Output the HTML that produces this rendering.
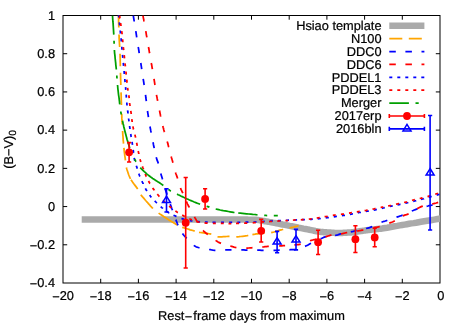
<!DOCTYPE html>
<html><head><meta charset="utf-8"><title>plot</title>
<style>html,body{margin:0;padding:0;background:#fff;overflow:hidden}body{width:463px;height:324px}.t{font-family:"Liberation Sans",sans-serif;text-rendering:geometricPrecision}</style>
</head><body>
<svg width="463" height="324" viewBox="0 0 463 324" style="display:block">
<rect width="100%" height="100%" fill="#fff"/>
<defs><clipPath id="c"><rect x="63" y="15.5" width="377" height="267.5"/></clipPath></defs>
<g stroke="#000" stroke-width="1" fill="none">
<rect x="63" y="15.5" width="377" height="267.5"/>
<path d="M100.70,283 v-4.2 M100.70,15.5 v4.2"/>
<path d="M138.40,283 v-4.2 M138.40,15.5 v4.2"/>
<path d="M176.10,283 v-4.2 M176.10,15.5 v4.2"/>
<path d="M213.80,283 v-4.2 M213.80,15.5 v4.2"/>
<path d="M251.50,283 v-4.2 M251.50,15.5 v4.2"/>
<path d="M289.20,283 v-4.2 M289.20,15.5 v4.2"/>
<path d="M326.90,283 v-4.2 M326.90,15.5 v4.2"/>
<path d="M364.60,283 v-4.2 M364.60,15.5 v4.2"/>
<path d="M402.30,283 v-4.2 M402.30,15.5 v4.2"/>
<path d="M63,244.79 h4.2 M440,244.79 h-4.2"/>
<path d="M63,206.57 h4.2 M440,206.57 h-4.2"/>
<path d="M63,168.36 h4.2 M440,168.36 h-4.2"/>
<path d="M63,130.14 h4.2 M440,130.14 h-4.2"/>
<path d="M63,91.93 h4.2 M440,91.93 h-4.2"/>
<path d="M63,53.71 h4.2 M440,53.71 h-4.2"/>
</g>
<g class="t" font-size="12.8" fill="#000" stroke="#000" stroke-width="0.22" style="will-change:transform">
<text x="63.00" y="299.9" text-anchor="middle"><tspan dy="1.1">−</tspan><tspan dy="-1.1">20</tspan></text>
<text x="100.70" y="299.9" text-anchor="middle"><tspan dy="1.1">−</tspan><tspan dy="-1.1">18</tspan></text>
<text x="138.40" y="299.9" text-anchor="middle"><tspan dy="1.1">−</tspan><tspan dy="-1.1">16</tspan></text>
<text x="176.10" y="299.9" text-anchor="middle"><tspan dy="1.1">−</tspan><tspan dy="-1.1">14</tspan></text>
<text x="213.80" y="299.9" text-anchor="middle"><tspan dy="1.1">−</tspan><tspan dy="-1.1">12</tspan></text>
<text x="251.50" y="299.9" text-anchor="middle"><tspan dy="1.1">−</tspan><tspan dy="-1.1">10</tspan></text>
<text x="289.20" y="299.9" text-anchor="middle"><tspan dy="1.1">−</tspan><tspan dy="-1.1">8</tspan></text>
<text x="326.90" y="299.9" text-anchor="middle"><tspan dy="1.1">−</tspan><tspan dy="-1.1">6</tspan></text>
<text x="364.60" y="299.9" text-anchor="middle"><tspan dy="1.1">−</tspan><tspan dy="-1.1">4</tspan></text>
<text x="402.30" y="299.9" text-anchor="middle"><tspan dy="1.1">−</tspan><tspan dy="-1.1">2</tspan></text>
<text x="440.90" y="299.9" text-anchor="middle">0</text>
<text x="55" y="287.00" text-anchor="end"><tspan dy="1.1">−</tspan><tspan dy="-1.1">0.4</tspan></text>
<text x="55" y="248.86" text-anchor="end"><tspan dy="1.1">−</tspan><tspan dy="-1.1">0.2</tspan></text>
<text x="55" y="210.71" text-anchor="end">0</text>
<text x="55" y="172.57" text-anchor="end">0.2</text>
<text x="55" y="134.43" text-anchor="end">0.4</text>
<text x="55" y="96.29" text-anchor="end">0.6</text>
<text x="55" y="58.14" text-anchor="end">0.8</text>
<text x="55" y="20.00" text-anchor="end">1</text>
<text y="320"><tspan x="158.1">Rest</tspan><tspan x="184.65" dy="0.6">−</tspan><tspan x="193.35" dy="-0.6">frame days from maximum</tspan></text>
<text transform="translate(13.0,149.3) rotate(-90)" text-anchor="middle">(B−V)<tspan font-size="10.3" dy="2.6">0</tspan></text>
<text x="381.5" y="29.95" text-anchor="end">Hsiao template</text>
<text x="381.5" y="42.85" text-anchor="end">N100</text>
<text x="381.5" y="55.75" text-anchor="end">DDC0</text>
<text x="381.5" y="68.65" text-anchor="end">DDC6</text>
<text x="381.5" y="81.55" text-anchor="end">PDDEL1</text>
<text x="381.5" y="94.45" text-anchor="end">PDDEL3</text>
<text x="381.5" y="107.35" text-anchor="end">Merger</text>
<text x="381.5" y="120.25" text-anchor="end">2017erp</text>
<text x="381.5" y="133.15" text-anchor="end">2016bln</text>
</g>
<g clip-path="url(#c)" fill="none" stroke-width="1.75">
<path d="M81.7,219.5 L86.9,219.5 L93.7,219.5 L101.8,219.5 L110.8,219.5 L120.5,219.5 L130.5,219.5 L140.4,219.5 L150.0,219.5 L159.9,219.5 L170.6,219.5 L181.8,219.5 L193.0,219.4 L203.9,219.4 L213.9,219.4 L222.8,219.4 L230.0,219.4 L235.5,219.4 L239.5,219.4 L242.5,219.5 L244.5,219.5 L246.1,219.6 L247.3,219.6 L248.5,219.7 L250.0,219.7 L251.5,219.7 L252.7,219.7 L253.7,219.7 L254.4,219.7 L255.1,219.7 L255.7,219.8 L256.5,219.8 L257.3,219.9 L258.2,220.0 L259.2,220.1 L260.1,220.3 L261.0,220.5 L262.0,220.6 L262.9,220.8 L263.9,221.0 L265.0,221.2 L266.0,221.4 L267.1,221.6 L268.1,221.7 L269.1,221.9 L270.3,222.1 L271.5,222.3 L272.9,222.6 L274.5,222.9 L276.3,223.2 L278.3,223.6 L280.4,224.0 L282.6,224.5 L284.9,224.9 L287.3,225.4 L289.6,225.9 L291.8,226.3 L294.0,226.7 L296.4,227.2 L298.7,227.7 L301.1,228.1 L303.4,228.6 L305.6,229.0 L307.6,229.4 L309.5,229.8 L311.2,230.1 L312.7,230.4 L314.1,230.7 L315.4,231.0 L316.6,231.2 L317.8,231.4 L318.9,231.6 L320.0,231.8 L321.1,231.9 L322.0,232.1 L322.9,232.1 L323.8,232.2 L324.6,232.2 L325.5,232.3 L326.3,232.3 L327.3,232.4 L328.3,232.5 L329.4,232.5 L330.5,232.6 L331.6,232.7 L332.7,232.8 L333.8,232.8 L334.9,232.9 L336.0,232.9 L337.1,232.9 L338.1,232.9 L339.2,232.9 L340.3,232.9 L341.3,232.9 L342.4,232.9 L343.4,232.8 L344.5,232.8 L345.6,232.8 L346.6,232.7 L347.7,232.6 L348.7,232.6 L349.8,232.5 L350.9,232.4 L351.9,232.3 L353.0,232.2 L354.1,232.1 L355.2,231.9 L356.3,231.8 L357.4,231.6 L358.5,231.4 L359.6,231.2 L360.7,231.1 L361.8,230.9 L362.8,230.8 L363.9,230.6 L364.9,230.5 L365.9,230.3 L366.9,230.2 L367.9,230.1 L368.9,229.9 L370.0,229.8 L371.1,229.7 L372.3,229.6 L373.5,229.4 L374.7,229.3 L375.9,229.2 L377.1,229.1 L378.1,229.0 L379.0,228.9 L379.7,228.8 L380.1,228.8 L380.4,228.8 L380.6,228.8 L380.9,228.7 L381.4,228.6 L382.2,228.5 L383.4,228.3 L385.1,228.0 L387.2,227.7 L389.5,227.3 L392.0,226.8 L394.6,226.3 L397.2,225.9 L399.8,225.4 L402.3,225.0 L404.6,224.6 L406.9,224.2 L409.1,223.8 L411.4,223.4 L413.7,223.1 L416.1,222.7 L418.6,222.2 L421.1,221.8 L424.1,221.3 L427.3,220.8 L430.8,220.2 L434.3,219.6 L437.6,219.0 L440.6,218.5 L443.1,218.1 L445.0,217.8" stroke="#aaaaaa" stroke-width="6.5"/>
<path d="M118.5,15.5 L118.5,17.0 L118.6,18.5 L118.6,20.0 L118.6,21.6 L118.7,23.2 L118.7,24.8 L118.8,26.4 L118.8,27.5 M119.0,34.5 L119.1,36.1 L119.1,37.7 L119.2,39.3 L119.3,40.9 L119.4,42.5 L119.5,44.1 L119.6,45.7 L119.7,47.0 M120.0,53.8 L120.1,55.3 L120.1,56.9 L120.2,58.5 L120.2,60.1 L120.2,61.7 L120.3,63.3 L120.3,64.9 L120.3,66.2 M120.5,72.8 L120.5,74.3 L120.6,75.7 L120.6,77.1 L120.6,78.5 L120.7,79.9 L120.7,81.2 L120.8,82.7 L120.8,84.1 L120.8,85.0 M121.0,92.4 L121.1,94.1 L121.2,96.4 L121.2,98.8 L121.3,100.1 L121.3,101.3 L121.4,102.6 L121.4,103.9 L121.4,104.9 M121.7,113.7 L121.8,115.3 L121.8,116.6 L121.9,118.9 L122.1,121.1 L122.2,123.3 L122.2,124.6 M122.6,131.0 L122.7,132.6 L122.8,134.6 L123.0,136.5 L123.1,138.4 L123.2,140.2 L123.4,142.0 L123.5,143.6 M123.9,147.9 L124.1,149.4 L124.2,150.9 L124.4,152.4 L124.6,153.8 L124.7,155.1 L124.9,156.4 L125.1,157.7 L125.3,159.4 L125.4,160.4 M126.4,167.5 L126.7,168.7 L127.1,170.1 L127.6,171.5 L128.1,173.0 L128.6,174.5 L129.2,176.0 L129.8,177.4 L130.5,178.8 M131.0,179.7 L131.9,181.1 L132.8,182.4 L133.8,183.8 L134.8,185.1 L135.8,186.4 L136.7,187.6 L137.5,188.7 L137.7,189.0 M140.8,194.7 L141.9,196.1 L142.8,197.2 L143.9,198.4 L145.0,199.7 L146.1,201.0 L147.3,202.3 L148.4,203.6 L149.6,204.9 L150.6,206.1 L151.6,207.2 L152.5,208.1 L152.9,208.5 M158.6,213.1 L159.7,213.9 L161.1,214.8 L162.6,215.8 L164.3,216.9 L166.1,218.1 L167.9,219.2 L169.7,220.4 L171.5,221.6 L173.2,222.6 L174.8,223.6 L176.3,224.5 L177.3,225.1 M182.2,227.4 L183.5,227.7 L184.9,228.1 L186.3,228.5 L187.8,229.0 L189.0,229.4 L190.2,229.8 L191.4,230.1 L192.8,230.5 L194.1,230.9 L194.7,231.1 M199.0,232.3 L200.2,232.5 L201.7,232.7 L203.3,232.9 L205.0,233.2 L206.8,233.4 L208.5,233.7 L210.0,233.9 L211.3,234.2 M217.5,236.8 L218.8,236.9 L220.2,236.9 L221.8,236.8 L223.5,236.7 L225.1,236.6 L226.7,236.5 L228.2,236.4 L229.5,236.4 M236.3,236.9 L237.6,236.8 L239.1,236.7 L240.8,236.5 L242.5,236.3 L244.2,236.1 L245.7,235.9 L247.1,235.7 L248.3,235.5 M252.4,234.7 L253.7,234.4 L255.1,234.2 L256.3,233.9 L257.6,233.8 L259.0,233.6 L260.2,233.5 L261.4,233.4 L262.7,233.3 L263.9,233.2 L264.5,233.2 M271.2,232.6 L272.4,232.3 L273.8,232.0 L275.3,231.6 L276.8,231.1 L278.4,230.7 L279.9,230.2 L281.3,229.8 L282.5,229.5 L283.2,229.3 M289.5,228.0 L291.0,227.6 L292.2,227.3 L293.6,227.0 L294.9,226.6 L296.1,226.3 L297.5,226.0 L298.5,225.7" stroke="#ffa500"/>
<path d="M131.0,0.0 L131.2,1.2 L131.4,2.8 L131.6,4.0 L131.8,5.4 L131.9,5.8 M133.3,15.4 L133.5,16.8 L133.7,18.1 L133.9,19.4 L134.1,20.7 L134.2,21.5 M135.8,31.1 L136.0,32.4 L136.2,33.7 L136.4,35.1 L136.6,36.4 L136.7,37.3 M138.2,47.0 L138.5,48.3 L138.7,49.7 L138.9,51.0 L139.1,52.3 L139.2,53.2 M140.8,63.0 L141.0,64.3 L141.2,65.6 L141.4,66.9 L141.6,68.3 L141.7,69.1 M143.2,78.8 L143.4,80.1 L143.6,81.4 L143.8,82.7 L144.0,84.1 L144.2,85.0 M145.5,94.8 L145.7,96.1 L145.8,97.5 L146.0,98.8 L146.2,100.2 L146.3,101.1 M147.5,111.0 L147.7,112.3 L147.9,113.6 L148.1,114.9 L148.3,116.2 L148.4,117.1 M150.0,126.5 L150.2,127.8 L150.5,129.1 L150.7,130.4 L151.0,131.8 L151.1,132.7 M153.0,142.2 L153.3,143.6 L153.5,144.9 L153.8,146.2 L154.1,147.6 L154.2,148.1 M156.2,157.2 L156.6,158.5 L157.0,159.9 L157.5,161.2 L158.0,162.4 L158.3,163.5 M160.8,173.5 L161.2,174.9 L161.6,176.2 L162.0,177.5 L162.4,178.8 L162.6,179.4 M165.1,188.6 L165.6,190.2 L166.0,191.4 L166.4,192.6 L166.8,193.8 L167.0,194.7 M170.2,204.2 L170.9,205.9 L171.3,207.1 L171.7,208.3 L172.2,209.5 L172.4,210.2 M175.9,219.6 L176.4,221.1 L176.9,222.3 L177.3,223.5 L177.8,224.8 L178.1,225.2 M182.5,233.5 L183.2,234.5 L184.0,235.5 L184.9,236.5 L185.8,237.4 L186.7,238.3 L186.7,238.3 M193.8,245.4 L194.8,246.1 L196.0,246.7 L197.1,247.1 L198.4,247.5 L199.5,247.8 M209.1,249.5 L210.5,249.7 L211.8,250.0 L213.1,250.2 L214.5,250.3 L215.4,250.3 M225.2,249.9 L227.0,249.9 L228.2,249.9 L229.5,249.9 L230.8,249.9 L231.5,249.9 M241.3,249.9 L242.6,249.9 L244.0,249.9 L245.3,250.0 L246.6,250.0 L247.5,250.0 M257.2,250.2 L258.5,250.2 L259.9,250.2 L261.3,250.3 L262.6,250.3 L263.6,250.3 M273.5,250.4 L274.9,250.4 L276.3,250.3 L277.7,250.3 L279.2,250.2 L279.7,250.2 M289.4,249.8 L290.6,249.7 L291.8,249.7 L293.1,249.7 L294.5,249.6 L295.7,249.4 M305.0,246.4 L306.3,245.8 L307.6,245.2 L308.8,244.5 L310.0,243.8 L311.0,243.3 M320.6,238.9 L321.9,238.3 L323.0,237.7 L324.2,237.2 L325.3,236.9 L326.0,236.7 M335.1,235.5 L336.5,235.2 L337.8,234.8 L339.1,234.3 L340.4,233.9 L341.1,233.8 M350.8,232.0 L352.0,231.7 L353.3,231.4 L354.6,231.0 L355.8,230.7 L356.7,230.5 M366.1,228.5 L367.5,228.2 L368.9,227.8 L370.2,227.4 L371.5,226.9 L372.3,226.6 M381.5,222.3 L382.8,221.8 L384.1,221.3 L385.3,221.0 L386.5,220.6 L387.3,220.3 M396.5,217.2 L397.7,216.8 L399.0,216.4 L400.1,216.0 L401.4,215.6 L402.5,215.1 L402.6,215.1 M411.8,211.0 L413.1,210.5 L414.3,210.0 L415.4,209.6 L416.6,209.2 L417.5,208.9 M426.6,206.3 L427.9,206.0 L429.2,205.6 L430.4,205.4 L431.8,205.1 L432.6,204.9 M442.2,203.0 L443.5,202.8 L444.7,202.6 L445.0,202.5" stroke="#0000ff"/>
<path d="M140.5,0.0 L140.7,1.2 L140.9,2.8 L141.1,4.0 L141.4,5.4 L141.4,5.9 M143.0,15.4 L143.2,16.8 L143.4,18.1 L143.7,19.4 L143.9,20.7 L144.1,21.5 M145.8,31.1 L146.0,32.4 L146.2,33.7 L146.4,35.1 L146.7,36.4 L146.8,37.3 M148.5,47.0 L148.7,48.3 L149.0,49.7 L149.2,51.0 L149.4,52.3 L149.6,53.2 M151.3,63.0 L151.5,64.3 L151.8,65.6 L152.0,66.9 L152.2,68.3 L152.4,69.1 M154.0,78.8 L154.2,80.1 L154.4,81.4 L154.6,82.7 L154.8,84.1 L155.0,85.0 M156.5,94.8 L156.7,96.1 L157.0,97.4 L157.2,98.7 L157.5,100.0 L157.6,100.9 M159.5,110.5 L159.8,111.8 L160.0,113.1 L160.3,114.4 L160.5,115.7 L160.7,116.6 M162.8,126.0 L163.1,127.3 L163.5,128.6 L163.8,129.9 L164.2,131.2 L164.5,132.1 M167.2,141.5 L167.6,142.8 L167.9,144.1 L168.3,145.5 L168.6,146.8 L168.8,147.3 M171.2,156.5 L171.5,157.7 L171.9,159.0 L172.2,160.1 L172.6,161.4 L172.9,162.7 M175.5,172.5 L175.9,173.7 L176.3,174.8 L176.8,176.1 L177.2,177.3 L177.6,178.5 M180.5,188.0 L181.0,189.4 L181.6,190.6 L182.2,191.8 L182.8,193.0 L182.9,193.2 M186.3,201.5 L186.9,202.7 L187.4,203.8 L188.0,204.9 L188.5,206.0 L189.2,207.2 L189.3,207.5 M194.4,216.8 L195.0,217.9 L195.8,219.2 L196.4,220.4 L197.2,221.7 L197.5,222.3 M203.1,230.4 L203.9,231.3 L204.9,232.2 L205.8,233.0 L206.9,233.8 L207.8,234.5 M215.6,240.4 L216.6,241.1 L217.7,241.8 L218.8,242.4 L219.9,242.9 L221.0,243.4 M230.3,246.0 L231.5,246.3 L232.7,246.7 L234.0,247.1 L235.3,247.4 L236.4,247.6 M246.3,248.1 L247.5,248.1 L248.8,248.0 L250.1,247.9 L251.4,247.8 L252.5,247.7 M262.2,247.0 L263.7,246.9 L265.1,246.7 L266.4,246.6 L267.8,246.4 L268.8,246.4 M279.1,246.0 L280.5,245.9 L281.8,245.8 L283.2,245.6 L284.4,245.5 L285.1,245.5 M294.4,244.9 L295.9,244.8 L297.1,244.7 L298.4,244.6 L299.7,244.3 L300.7,244.1 M310.0,240.8 L311.4,240.3 L312.8,240.0 L314.1,239.7 L315.4,239.4 L316.1,239.2 M325.6,236.8 L326.8,236.4 L328.1,236.0 L329.4,235.6 L330.6,235.2 L331.5,235.1 M341.0,233.8 L342.3,233.6 L343.6,233.3 L345.0,233.0 L346.4,232.7 L347.2,232.5 M357.0,231.0 L358.3,230.8 L359.5,230.6 L360.9,230.4 L362.4,230.1 L363.4,230.0 M373.4,227.9 L374.7,227.6 L376.0,227.4 L377.2,227.2 L378.4,226.9 L379.7,226.5 L379.7,226.5 M389.3,223.1 L390.5,222.7 L391.7,222.3 L393.0,221.8 L394.3,221.1 L394.8,220.8 M402.8,216.0 L404.1,215.4 L405.4,214.9 L406.6,214.6 L407.8,214.1 L408.6,213.7 M417.2,208.8 L418.4,208.1 L419.5,207.5 L420.7,206.9 L421.9,206.4 L422.8,206.1 M432.2,204.0 L433.5,203.7 L434.8,203.3 L436.2,203.0 L437.5,202.6 L438.2,202.4" stroke="#ff0000"/>
<path d="M117.0,0.0 L117.1,1.2 L117.2,1.5 M117.7,6.5 L117.8,8.0 L118.0,9.5 M118.5,14.5 L118.7,16.0 L118.8,17.3 L118.8,17.4 M119.3,22.4 L119.5,23.9 L119.7,25.3 L119.7,25.4 M120.2,30.5 L120.4,32.0 L120.5,33.3 L120.6,33.4 M121.1,38.3 L121.2,39.8 L121.3,41.1 L121.3,41.5 M121.8,46.8 L121.9,48.3 L122.0,49.8 M122.5,54.9 L122.7,56.7 L122.8,57.9 M123.3,62.9 L123.6,65.9 M124.1,71.0 L124.3,73.9 L124.3,74.0 M124.8,79.0 L125.0,81.3 L125.1,82.1 M125.6,87.1 L125.7,88.6 L125.8,89.9 M126.2,94.6 L126.3,96.2 L126.4,97.6 M126.8,102.5 L126.9,104.0 L127.0,105.3 L127.0,105.4 M127.6,110.3 L127.8,112.0 L128.0,113.3 L128.0,113.4 M128.6,118.5 L128.8,120.0 L129.0,121.3 M129.6,126.0 L129.8,127.6 L130.0,129.0 M130.7,134.0 L130.9,135.2 L131.1,136.6 L131.2,137.0 M132.1,141.9 L132.3,143.5 L132.5,144.9 M133.2,149.9 L133.4,151.3 L133.5,152.8 L133.6,152.9 M134.2,157.9 L134.5,159.5 L134.8,160.9 M136.3,165.7 L136.8,167.1 L137.2,168.4 L137.3,168.6 M138.8,173.6 L139.3,175.0 L139.8,176.3 L139.9,176.5 M141.9,181.1 L142.5,182.5 L143.1,183.7 L143.1,183.9 M145.4,188.4 L146.1,189.7 L146.8,190.8 L146.9,191.0 M149.6,195.1 L150.5,196.3 L151.3,197.3 L151.4,197.4 M154.7,200.9 L155.8,202.0 L156.8,203.0 L156.9,203.1 M160.7,206.6 L161.8,207.6 L162.8,208.4 L162.9,208.5 M166.8,211.4 L168.0,212.2 L169.1,212.9 L169.2,212.9 M173.5,215.2 L174.9,215.8 L176.2,216.4 L176.5,216.5 M181.4,218.5 L182.7,218.9 L184.0,219.3 L184.5,219.4 M189.7,220.5 L191.2,220.8 L192.5,221.0 M197.3,221.6 L198.6,221.7 L200.0,221.8 L200.1,221.8 M204.9,222.0 L206.5,222.1 L207.7,222.1 L207.7,222.1 M212.5,222.3 L214.0,222.3 L215.3,222.3 L215.7,222.3 M221.0,222.4 L222.9,222.4 L224.0,222.4 M229.1,222.4 L230.6,222.4 L232.0,222.4 L232.2,222.4 M237.3,222.3 L238.6,222.3 L240.0,222.3 L240.3,222.3 M245.4,222.2 L246.9,222.2 L248.3,222.2 L248.4,222.2 M253.5,222.1 L255.0,222.0 L256.5,221.9 M261.6,221.6 L263.0,221.5 L264.4,221.4 L264.7,221.4 M269.7,221.0 L271.3,221.0 L272.7,220.9 L272.8,220.9 M277.9,220.7 L279.2,220.6 L280.6,220.5 L280.9,220.5 M286.0,220.3 L287.4,220.3 L288.7,220.2 L289.0,220.2 M294.1,220.1 L295.6,220.0 L297.1,219.9 M302.0,219.7 L303.5,219.7 L304.9,219.6 M309.9,219.4 L311.3,219.3 L312.7,219.2 L312.8,219.2 M317.7,218.8 L319.2,218.6 L320.5,218.5 L320.7,218.4 M325.7,217.9 L327.2,217.7 L328.5,217.5 L328.8,217.5 M333.8,216.8 L335.3,216.6 L336.7,216.4 L336.9,216.4 M342.0,215.7 L343.5,215.5 L344.8,215.3 L345.0,215.3 M349.9,214.4 L351.4,214.1 L352.7,213.8 L352.9,213.8 M357.8,212.8 L359.3,212.5 L360.6,212.3 L360.8,212.2 M365.8,211.5 L367.3,211.2 L368.5,211.0 L368.8,211.0 M373.7,210.1 L375.2,209.8 L376.8,209.4 M381.8,208.3 L383.3,208.0 L384.8,207.6 L384.8,207.6 M389.8,206.5 L391.3,206.2 L392.7,205.9 L392.7,205.9 M397.5,205.0 L399.0,204.7 L400.3,204.4 L400.5,204.4 M405.3,203.2 L406.8,202.8 L408.1,202.5 L408.3,202.4 M413.2,201.3 L414.7,200.9 L416.0,200.6 L416.2,200.5 M421.0,199.4 L422.5,199.0 L423.8,198.7 L423.9,198.6 M428.7,197.3 L430.1,196.9 L431.4,196.5 L431.7,196.5 M436.7,195.1 L438.1,194.7 L439.4,194.3 L439.5,194.3 M444.3,192.9 L445.0,192.7" stroke="#0000ff"/>
<path d="M117.8,0.0 L117.9,1.2 L118.1,2.6 M118.7,7.6 L118.9,9.5 L119.0,10.5 M119.6,15.5 L119.8,16.9 L119.9,18.2 L120.0,18.3 M120.6,23.0 L120.8,24.5 L121.0,25.9 L121.0,26.1 M121.7,31.2 L121.9,32.7 L122.1,34.1 L122.1,34.2 M122.6,39.3 L122.7,40.8 L122.8,42.0 L122.8,42.2 M123.3,47.1 L123.5,48.6 L123.7,50.2 M124.2,55.2 L124.4,57.2 L124.5,58.3 M125.0,63.4 L125.2,64.9 L125.4,66.4 M125.9,71.5 L126.1,73.0 L126.2,74.6 M126.8,79.6 L127.0,82.4 L127.1,82.7 M127.6,87.8 L127.8,89.2 L128.0,90.6 M128.7,95.3 L129.0,96.5 L129.1,97.7 L129.2,98.2 M129.6,103.0 L129.8,104.5 L130.0,105.8 L130.0,106.0 M130.8,110.9 L131.0,112.4 L131.2,113.8 L131.2,114.0 M131.8,119.1 L132.0,120.6 L132.2,121.8 L132.2,121.9 M132.9,126.4 L133.2,127.9 L133.5,129.3 L133.6,129.5 M134.9,134.6 L135.3,136.2 L135.6,137.6 L135.6,137.6 M136.6,142.8 L136.9,144.0 L137.1,145.2 L137.2,145.8 M138.2,151.0 L138.5,152.4 L138.8,153.7 L138.8,154.1 M140.0,159.2 L140.4,160.6 L140.8,161.9 M142.4,166.4 L142.9,167.8 L143.4,169.0 L143.4,169.2 M145.2,173.9 L145.8,175.3 L146.3,176.5 L146.4,176.6 M148.5,181.0 L149.2,182.3 L149.9,183.5 L150.0,183.6 M152.6,187.9 L153.5,189.1 L154.3,190.2 L154.3,190.3 M157.3,194.1 L158.3,195.3 L159.2,196.4 L159.4,196.6 M162.9,200.5 L163.8,201.4 L164.8,202.3 L165.1,202.7 M169.1,206.1 L170.3,207.0 L171.3,207.8 L171.4,207.9 M175.4,210.9 L176.6,211.8 L177.7,212.5 L177.9,212.6 M182.2,215.1 L183.5,215.8 L184.6,216.4 L184.8,216.5 M189.3,218.7 L190.6,219.3 L191.9,219.8 L192.0,219.8 M196.7,221.4 L198.0,221.8 L199.3,222.1 L199.6,222.2 M204.5,222.9 L206.0,223.1 L207.4,223.2 L207.6,223.2 M212.9,223.3 L214.4,223.3 L215.7,223.3 L215.8,223.3 M220.8,223.4 L222.2,223.4 L223.6,223.4 L223.7,223.4 M228.5,223.5 L230.0,223.5 L231.3,223.5 L231.3,223.5 M236.0,223.3 L237.5,223.3 L238.8,223.3 L239.0,223.3 M244.1,223.1 L245.6,223.1 L247.0,223.0 L247.3,223.0 M252.7,222.8 L254.2,222.7 L255.6,222.6 L255.8,222.6 M261.0,222.0 L262.5,221.9 L263.9,221.8 L264.0,221.8 M269.1,221.6 L270.6,221.5 L272.0,221.4 L272.2,221.4 M277.3,221.1 L278.8,221.0 L280.1,220.9 L280.3,220.9 M285.4,220.7 L286.9,220.6 L288.2,220.5 L288.2,220.5 M292.9,220.1 L294.4,220.0 L295.7,219.9 L295.9,219.9 M300.8,219.8 L302.3,219.7 L303.6,219.6 L303.8,219.6 M308.8,219.2 L310.3,219.0 L311.6,218.8 L311.8,218.8 M316.7,218.0 L318.2,217.8 L319.5,217.6 L319.7,217.6 M324.6,216.7 L326.1,216.5 L327.5,216.3 L327.7,216.2 M332.8,215.4 L334.3,215.2 L335.7,215.0 L335.8,215.0 M340.9,214.4 L342.4,214.2 L343.8,214.0 L344.0,214.0 M349.0,213.1 L350.5,212.9 L351.8,212.7 L351.9,212.7 M356.8,211.8 L358.3,211.6 L359.6,211.4 L359.7,211.4 M364.6,210.7 L366.1,210.4 L367.4,210.1 L367.6,210.1 M372.5,209.1 L374.0,208.8 L375.3,208.5 L375.6,208.5 M380.6,207.5 L382.1,207.2 L383.4,207.0 L383.4,207.0 M388.1,206.0 L389.6,205.7 L390.9,205.4 L391.1,205.3 M396.0,204.1 L397.5,203.8 L398.8,203.5 L399.1,203.5 M404.1,202.5 L405.6,202.2 L406.9,201.9 L407.1,201.8 M412.0,200.4 L413.4,200.0 L414.7,199.7 L414.9,199.6 M419.7,198.5 L421.2,198.2 L422.5,197.9 L422.6,197.8 M427.5,196.6 L428.9,196.2 L430.2,195.8 L430.4,195.8 M435.2,194.3 L436.6,193.8 L438.0,193.3 M442.8,191.8 L444.1,191.3 L445.0,191.0" stroke="#ff0000"/>
<path d="M112.5,15.5 L112.6,17.0 L112.7,18.5 L112.8,20.1 L112.9,21.7 L113.1,23.4 L113.2,25.1 L113.3,26.7 L113.4,28.4 L113.5,30.0 L113.6,31.6 L113.7,33.1 L113.8,34.6 M114.0,40.8 L114.1,42.3 L114.1,43.5 L114.1,43.8 M114.4,50.0 L114.5,51.5 L114.6,53.1 L114.8,54.7 L115.0,56.3 L115.1,58.0 L115.3,59.7 L115.5,61.5 L115.7,63.1 L115.8,64.8 L116.0,66.4 L116.2,68.0 L116.3,69.5 M116.8,75.5 L116.9,77.3 L117.0,78.5 L117.0,78.5 M117.5,85.0 L117.7,86.5 L117.8,88.1 L118.0,89.8 L118.2,91.5 L118.4,93.3 L118.6,95.1 L118.9,96.8 L119.1,98.5 L119.3,100.1 L119.5,101.7 L119.6,103.1 L119.8,104.3 M120.8,111.5 L121.0,113.0 L121.2,114.3 L121.2,114.5 M122.5,120.8 L122.8,122.1 L123.1,123.5 L123.5,125.1 L123.8,126.7 L124.2,128.3 L124.6,129.9 L125.0,131.5 L125.4,133.0 L125.8,134.5 L126.2,136.1 L126.6,137.6 L127.0,139.2 L127.5,140.7 L127.9,142.1 L128.3,143.5 L128.7,144.8 L129.1,146.0 L129.6,147.4 L129.8,148.1 M134.6,159.1 L135.3,160.4 L136.0,161.6 L136.1,161.7 M140.3,167.6 L141.2,168.6 L142.2,169.6 L143.2,170.6 L144.3,171.7 L145.5,172.7 L146.7,173.8 L148.0,174.9 L149.4,176.0 L150.4,176.8 L151.5,177.6 L152.7,178.4 L154.0,179.2 L155.2,180.1 L156.5,180.9 L157.8,181.8 L159.1,182.6 L160.2,183.3 L161.4,184.1 L162.4,184.8 L163.3,185.4 M168.4,189.4 L169.6,190.3 L170.7,191.0 L170.9,191.1 M177.0,194.1 L178.2,194.7 L179.5,195.3 L180.8,196.0 L182.2,196.6 L183.6,197.3 L185.1,198.0 L186.5,198.7 L188.0,199.3 L189.5,200.0 L191.0,200.6 L192.6,201.3 L194.2,202.0 L195.8,202.6 L197.3,203.2 L198.8,203.8 L200.1,204.3 M206.6,206.3 L208.0,206.7 L209.2,207.1 L209.4,207.2 M215.7,209.0 L217.5,209.4 L218.8,209.7 L220.2,210.0 L221.8,210.3 L223.3,210.6 L225.0,210.9 L226.7,211.2 L228.4,211.5 L230.1,211.8 L231.9,212.1 L233.6,212.4 L234.5,212.5 M238.2,213.0 L240.3,213.2 L242.4,213.4 L244.5,213.6 L246.7,213.8 L248.8,214.0 L250.8,214.2 L252.7,214.4 L254.5,214.5 L256.1,214.7 L257.5,214.8 M264.2,215.3 L265.7,215.4 L267.1,215.5 L267.2,215.5 M273.8,215.6 L275.0,215.6 L276.4,215.7 L277.8,215.7" stroke="#00a000"/>
</g>
<g fill="none" stroke-width="1.75">
<path d="M389.3,25.7 H424.4" stroke="#aaaaaa" stroke-width="6.5"/>
<path d="M389.3,38.6 H424.4" stroke="#ffa500" stroke-dasharray="13 6.5"/>
<path d="M389.3,51.5 H424.4" stroke="#0000ff" stroke-dasharray="6.5 9.6"/>
<path d="M389.3,64.4 H424.4" stroke="#ff0000" stroke-dasharray="6.5 9.6"/>
<path d="M389.3,77.3 H424.4" stroke="#0000ff" stroke-dasharray="3 5"/>
<path d="M389.3,90.2 H424.4" stroke="#ff0000" stroke-dasharray="3 5"/>
<path d="M389.3,103.1 H408.9 M415.5,103.1 h3.2" stroke="#00a000"/>
</g>
<g clip-path="url(#c)">
<path d="M129.10,142.60 V162.00 M127.00,142.60 h4.20 M127.00,162.00 h4.20" stroke="#ff0000" stroke-width="1.6" fill="none"/>
<circle cx="129.10" cy="152.30" r="3.9" fill="#ff0000"/>
<path d="M185.70,177.50 V268.00 M183.60,177.50 h4.20 M183.60,268.00 h4.20" stroke="#ff0000" stroke-width="1.6" fill="none"/>
<circle cx="185.70" cy="222.75" r="3.9" fill="#ff0000"/>
<path d="M205.10,188.75 V209.00 M203.00,188.75 h4.20 M203.00,209.00 h4.20" stroke="#ff0000" stroke-width="1.6" fill="none"/>
<circle cx="205.10" cy="198.90" r="3.9" fill="#ff0000"/>
<path d="M261.20,219.40 V242.00 M259.10,219.40 h4.20 M259.10,242.00 h4.20" stroke="#ff0000" stroke-width="1.6" fill="none"/>
<circle cx="261.20" cy="230.80" r="3.9" fill="#ff0000"/>
<path d="M318.10,230.20 V254.50 M316.00,230.20 h4.20 M316.00,254.50 h4.20" stroke="#ff0000" stroke-width="1.6" fill="none"/>
<circle cx="318.10" cy="242.20" r="3.9" fill="#ff0000"/>
<path d="M355.40,225.75 V252.50 M353.30,225.75 h4.20 M353.30,252.50 h4.20" stroke="#ff0000" stroke-width="1.6" fill="none"/>
<circle cx="355.40" cy="239.20" r="3.9" fill="#ff0000"/>
<path d="M374.70,228.25 V246.75 M372.60,228.25 h4.20 M372.60,246.75 h4.20" stroke="#ff0000" stroke-width="1.6" fill="none"/>
<circle cx="374.70" cy="237.40" r="3.9" fill="#ff0000"/>
<path d="M166.50,188.80 V212.00 M164.40,188.80 h4.20 M164.40,212.00 h4.20" stroke="#0000ff" stroke-width="1.6" fill="none"/>
<path d="M166.50,196.12 L162.50,202.60 L170.50,202.60 Z" stroke="#0000ff" stroke-width="1.5" stroke-miterlimit="10" fill="none"/><circle cx="166.50" cy="200.60" r="0.6" fill="#0000ff"/>
<path d="M277.10,231.40 V252.70 M275.00,231.40 h4.20 M275.00,252.70 h4.20" stroke="#0000ff" stroke-width="1.6" fill="none"/>
<path d="M277.10,237.57 L273.10,244.05 L281.10,244.05 Z" stroke="#0000ff" stroke-width="1.5" stroke-miterlimit="10" fill="none"/><circle cx="277.10" cy="242.05" r="0.6" fill="#0000ff"/>
<path d="M296.00,229.40 V249.90 M293.90,229.40 h4.20 M293.90,249.90 h4.20" stroke="#0000ff" stroke-width="1.6" fill="none"/>
<path d="M296.00,235.62 L292.00,242.10 L300.00,242.10 Z" stroke="#0000ff" stroke-width="1.5" stroke-miterlimit="10" fill="none"/><circle cx="296.00" cy="240.10" r="0.6" fill="#0000ff"/>
<path d="M430.10,115.50 V230.00 M428.00,115.50 h4.20 M428.00,230.00 h4.20" stroke="#0000ff" stroke-width="1.6" fill="none"/>
<path d="M430.10,168.52 L426.10,175.00 L434.10,175.00 Z" stroke="#0000ff" stroke-width="1.5" stroke-miterlimit="10" fill="none"/><circle cx="430.10" cy="173.00" r="0.6" fill="#0000ff"/>
</g>
<path d="M389.3,116 H424.4 M389.3,113.9 v4.2 M424.4,113.9 v4.2" stroke="#ff0000" stroke-width="1.6" fill="none"/>
<circle cx="407.00" cy="116.00" r="3.9" fill="#ff0000"/>
<path d="M389.3,128.9 H424.4 M389.3,126.8 v4.2 M424.4,126.8 v4.2" stroke="#0000ff" stroke-width="1.6" fill="none"/>
<path d="M407.00,124.42 L403.00,130.90 L411.00,130.90 Z" stroke="#0000ff" stroke-width="1.5" stroke-miterlimit="10" fill="none"/><circle cx="407.00" cy="128.90" r="0.6" fill="#0000ff"/>
</svg>
</body></html>
